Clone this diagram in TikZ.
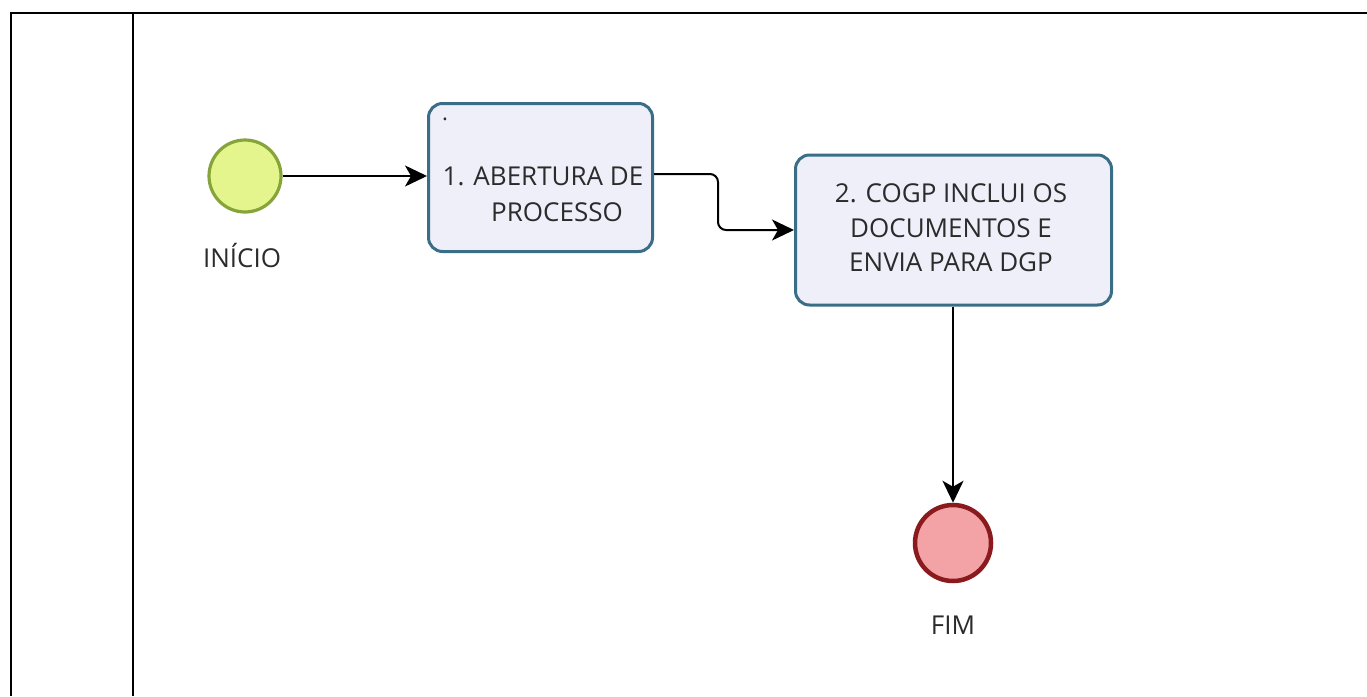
\documentclass[tikz,border=0pt]{standalone}
\usepackage{fontspec}
\setmainfont{Open Sans}
\usetikzlibrary{arrows.meta}
\definecolor{taskfill}{HTML}{EEEFF9}
\definecolor{taskdraw}{HTML}{3A6E87}
\definecolor{startfill}{HTML}{E4F58E}
\definecolor{startdraw}{HTML}{86A43A}
\definecolor{endfill}{HTML}{F3A3A6}
\definecolor{enddraw}{HTML}{8A1A1E}
\definecolor{txt}{HTML}{2B2B2B}
\tikzset{
  task/.style={draw=taskdraw, fill=taskfill, line width=3pt, rounded corners=14pt, inner sep=0pt},
  startev/.style={circle, draw=startdraw, fill=startfill, line width=3.2pt, minimum size=72pt, inner sep=0pt},
  endev/.style={circle, draw=enddraw, fill=endfill, line width=4.5pt, minimum size=76pt, inner sep=0pt},
  lbl/.style={text=txt, font=\fontsize{26}{30}\selectfont, inner sep=0pt, anchor=base},
  flow/.style={line width=2pt, -{Stealth[length=22pt,width=21pt,inset=6pt]}},
  frame/.style={line width=2pt, black}
}
\begin{document}
\begin{tikzpicture}[x=1pt,y=-1pt]
\useasboundingbox (0,0) rectangle (1367,696);
% pool frame
\coordinate (tl) at (11,13);
\coordinate (bl) at (11,696);
\coordinate (tr) at (1367,13);
\coordinate (dt) at (133,13);
\coordinate (db) at (133,696);
\draw[frame] (bl) -- (tl) -- (tr);
\draw[frame] (dt) -- (db);
% nodes
\node[startev] (start) at (245,176) {};
\node[lbl] (startlbl) at (242,267) {INÍCIO};
\node[task, minimum width=224pt, minimum height=148pt] (t1) at (540.5,177.5) {};
\node[lbl] (t1a) at (543,185) {1. ABERTURA DE};
\node[lbl] (t1b) at (557,221) {PROCESSO};
\node[lbl, font=\fontsize{22}{22}\selectfont] (dot) at (445,120) {.};
\node[task, minimum width=316pt, minimum height=150pt] (t2) at (953.5,230) {};
\node[lbl] (t2a) at (951,202) {2. COGP INCLUI OS};
\node[lbl] (t2b) at (951,237) {DOCUMENTOS E};
\node[lbl] (t2c) at (951,271) {ENVIA PARA DGP};
\node[endev] (fim) at (953,543) {};
\node[lbl] (fimlbl) at (953,634) {FIM};
% connectors
\coordinate (b1) at (718,174);
\coordinate (b2) at (718,230);
\draw[flow] (start.east) -- (t1.west |- start.east);
\draw[flow, rounded corners=8pt] (t1.east |- b1) -- (b1) -- (b2) -- (t2.west |- b2);
\draw[flow] (t2.south -| fim.north) -- (fim.north);
\end{tikzpicture}
\end{document}
